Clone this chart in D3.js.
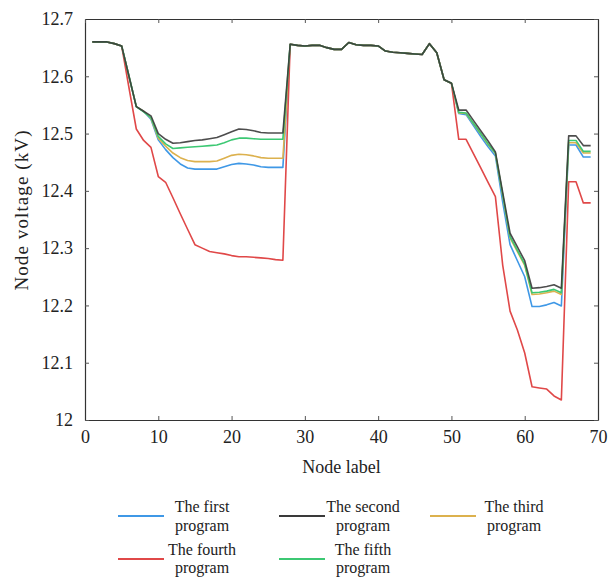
<!DOCTYPE html>
<html><head><meta charset="utf-8">
<script src="https://cdn.jsdelivr.net/npm/d3@7"></script>
<style>
html,body{margin:0;padding:0;background:#fff;}
svg{display:block;}
text{font-family:"Liberation Serif","DejaVu Serif",serif;fill:#222;}
</style></head>
<body>
<svg id="chart" width="609" height="577"></svg>
<script>
// ---- data ----
const nodes = d3.range(1, 70); // node labels 1..69
const xTicks = [0, 10, 20, 30, 40, 50, 60, 70];
const xTickLabels = ["0","10","20","30","40","50","60","70"];
const yTicks = [12.0, 12.1, 12.2, 12.3, 12.4, 12.5, 12.6, 12.7];
const yTickLabels = ["12","12.1","12.2","12.3","12.4","12.5","12.6","12.7"];

const firstProgram = [12.660,12.660,12.660,12.657,12.653, 12.600,12.547,12.539,12.525,
  12.489,12.472,12.458,12.447,12.440,12.438,12.438,12.438,12.438,
  12.442,12.446,12.448,12.447,12.445,12.442,12.441,12.441,12.441,
  12.656,12.654,12.653,12.654,12.654,12.650,12.647,12.647,12.659,12.655,12.654,12.654,12.653,12.644,12.642,12.641,12.640,12.639,12.638,12.657,12.641,12.594,12.588,
  12.535,12.533,12.514,12.495,12.477,12.461,12.380,12.306,12.278,12.250,12.198,12.198,12.201,12.205,12.199,12.480,12.480,12.459,12.459];
const secondProgram = [12.660,12.660,12.660,12.657,12.653, 12.600,12.547,12.539,12.531,
  12.500,12.490,12.483,12.484,12.486,12.488,12.489,12.491,12.493,
  12.498,12.503,12.508,12.507,12.505,12.502,12.501,12.501,12.501,
  12.656,12.654,12.653,12.654,12.654,12.650,12.647,12.647,12.659,12.655,12.654,12.654,12.653,12.644,12.642,12.641,12.640,12.639,12.638,12.657,12.641,12.594,12.588,
  12.541,12.541,12.523,12.505,12.487,12.468,12.397,12.326,12.302,12.278,12.230,12.231,12.233,12.236,12.230,12.496,12.496,12.479,12.479];
const thirdProgram = [12.660,12.660,12.660,12.657,12.653, 12.600,12.547,12.539,12.527,
  12.492,12.478,12.466,12.458,12.453,12.451,12.451,12.451,12.452,
  12.457,12.462,12.464,12.463,12.461,12.458,12.457,12.457,12.457,
  12.656,12.654,12.653,12.654,12.654,12.650,12.647,12.647,12.659,12.655,12.654,12.654,12.653,12.644,12.642,12.641,12.640,12.639,12.638,12.657,12.641,12.594,12.588,
  12.536,12.535,12.517,12.499,12.481,12.465,12.392,12.318,12.294,12.270,12.219,12.220,12.222,12.225,12.219,12.484,12.484,12.466,12.466];
const fourthProgram = [12.660,12.660,12.660,12.657,12.653, 12.580,12.508,12.488,12.476,
  12.425,12.415,12.388,12.360,12.333,12.306,12.300,12.294,12.292,
  12.290,12.287,12.285,12.285,12.284,12.283,12.282,12.280,12.279,
  12.656,12.654,12.653,12.654,12.654,12.650,12.647,12.647,12.659,12.655,12.654,12.654,12.653,12.644,12.642,12.641,12.640,12.639,12.638,12.657,12.641,12.594,12.588,
  12.490,12.490,12.465,12.440,12.415,12.390,12.270,12.190,12.157,12.117,12.058,12.056,12.054,12.042,12.035,12.416,12.416,12.379,12.379];
const fifthProgram = [12.660,12.660,12.660,12.657,12.653, 12.600,12.547,12.538,12.528,
  12.495,12.482,12.474,12.475,12.476,12.477,12.478,12.479,12.480,
  12.484,12.489,12.492,12.492,12.491,12.490,12.490,12.490,12.490,
  12.656,12.654,12.653,12.654,12.654,12.650,12.647,12.647,12.659,12.655,12.654,12.654,12.653,12.644,12.642,12.641,12.640,12.639,12.638,12.657,12.641,12.594,12.588,
  12.537,12.536,12.518,12.500,12.482,12.466,12.393,12.320,12.296,12.272,12.222,12.223,12.225,12.228,12.222,12.488,12.488,12.469,12.469];

const seriesNames = [["The first","program"],["The second","program"],["The third","program"],["The fourth","program"],["The fifth","program"]];
const seriesValues = [firstProgram, secondProgram, thirdProgram, fourthProgram, fifthProgram];
const seriesColors = ["#3f98e6", "#3a3a3a", "#dcb14e", "#e04848", "#3cc873"];
const drawOrder = [0, 2, 3, 4, 1];

// ---- layout ----
const svg = d3.select("#chart");
const L = 85, R = 598, T = 19, B = 420;
const x = d3.scaleLinear().domain([0, 70]).range([L, R]);
const y = d3.scaleLinear().domain([12.0, 12.7]).range([B, T]);

const line = d3.line().x((d, i) => x(nodes[i])).y(d => y(d));
const plot = svg.append("g");
drawOrder.forEach(k => {
  plot.append("path").datum(seriesValues[k])
    .attr("d", line).attr("fill", "none")
    .attr("stroke", seriesColors[k]).attr("stroke-width", 1.6)
    .attr("stroke-linejoin", "round")
    .attr("opacity", k === 1 ? 0.9 : 1);
});

// axes (ticks inward on all four sides)
const tickLen = 4;
const axB = svg.append("g").attr("transform", `translate(0,${B})`)
  .call(d3.axisBottom(x).tickValues(xTicks).tickSizeInner(-tickLen).tickSizeOuter(0).tickPadding(10)
    .tickFormat((d, i) => xTickLabels[i]));
const axL = svg.append("g").attr("transform", `translate(${L},0)`)
  .call(d3.axisLeft(y).tickValues(yTicks).tickSizeInner(-tickLen).tickSizeOuter(0).tickPadding(12)
    .tickFormat((d, i) => yTickLabels[i]));
const axT = svg.append("g").attr("transform", `translate(0,${T})`)
  .call(d3.axisTop(x).tickValues(xTicks).tickSizeInner(-tickLen).tickSizeOuter(0).tickFormat(""));
const axR = svg.append("g").attr("transform", `translate(${R},0)`)
  .call(d3.axisRight(y).tickValues(yTicks).tickSizeInner(-tickLen).tickSizeOuter(0).tickFormat(""));
[axB, axL, axT, axR].forEach(a => {
  a.select(".domain").attr("stroke", "#333").attr("stroke-width", 1.2);
  a.selectAll(".tick line").attr("stroke", "#555");
  a.selectAll("text").style("font-family", "'Liberation Serif', serif").attr("font-size", 18).attr("fill", "#222");
});

// axis titles
svg.append("text").attr("x", (L + R) / 2).attr("y", 473).attr("text-anchor", "middle")
  .attr("font-size", 18).text("Node label");
svg.append("text").attr("transform", `translate(28,210) rotate(-90)`)
  .attr("text-anchor", "middle").attr("font-size", 19).style("letter-spacing", "1.1px")
  .text("Node voltage (kV)");

// legend
const legPos = [[118, 516], [279, 516], [430, 516], [118, 559], [279, 559]];
seriesNames.forEach((nm, k) => {
  const [lx, ly] = legPos[k];
  const g = svg.append("g");
  g.append("line").attr("x1", lx).attr("x2", lx + 46).attr("y1", ly).attr("y2", ly)
    .attr("stroke", seriesColors[k]).attr("stroke-width", 2);
  g.append("text").attr("x", lx + 84).attr("y", ly - 4).attr("text-anchor", "middle")
    .attr("font-size", 16).text(nm[0]);
  g.append("text").attr("x", lx + 84).attr("y", ly + (k < 3 ? 15 : 14)).attr("text-anchor", "middle")
    .attr("font-size", 16).text(nm[1]);
});
</script>
</body></html>
